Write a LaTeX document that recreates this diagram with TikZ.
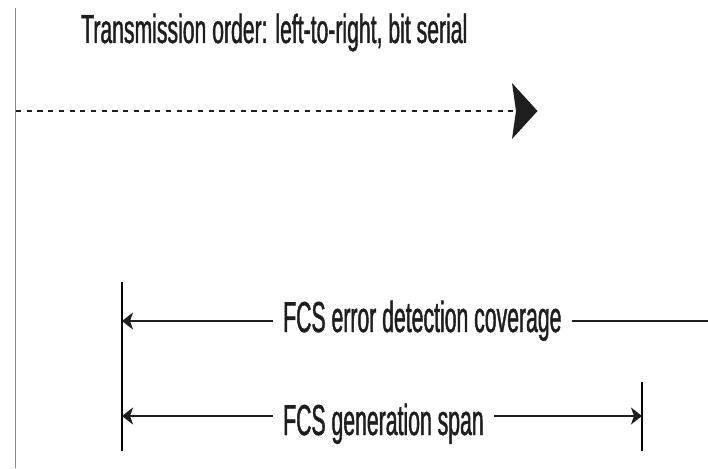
\documentclass[tikz,border=0pt]{standalone}
\usepackage{fontspec}
\usetikzlibrary{arrows.meta}
\setmainfont{Liberation Sans}
\newfontfamily\titlefont[FakeStretch=0.523,FakeBold=1.0]{Liberation Sans}
\newfontfamily\labelfont[FakeStretch=0.49,FakeBold=1.0]{Liberation Sans}
\definecolor{inkdark}{HTML}{1E1E1E}
\definecolor{rulegray}{HTML}{8A8A8A}
\begin{document}
\begin{tikzpicture}[x=1pt,y=-1pt,
  guide/.style={draw=rulegray,line width=1.8pt},
  tick/.style={draw=black,line width=1.1pt},
  span/.style={draw=inkdark,line width=2.1pt},
  spanarrow/.style={span,-{Stealth[length=11pt,width=17pt,inset=3pt]}},
  txt/.style={inner xsep=10pt,inner ysep=0pt,anchor=base west,text=inkdark}]
\useasboundingbox (0,0) rectangle (708,468);
% left guide line
\coordinate (gtop) at (15.5,8);
\coordinate (gbot) at (15.5,468);
\draw[guide] (gtop) -- (gbot);
% title
\node[txt,font=\titlefont\fontsize{40.5}{44}\selectfont] (title) at (71,43) {Transmission order: left-to-right, bit serial};
% dashed transmission arrow
\coordinate (dstart) at (16,111);
\coordinate (dend) at (514,111);
\draw[draw=inkdark,line width=2.8pt,dash pattern=on 5.2pt off 5.5pt] (dstart) -- (dend);
\fill[inkdark] (512,83) -- (537.5,111) -- (512,139) -- (516,111) -- cycle;
% span ticks
\coordinate (ltop) at (122,282);
\coordinate (lbot) at (122,451);
\coordinate (rtop) at (642,382);
\coordinate (rbot) at (642,451);
\draw[tick] (ltop) -- (lbot);
\draw[tick] (rtop) -- (rbot);
% coverage
\node[txt,font=\labelfont\fontsize{43.3}{46}\selectfont] (cov) at (273,332) {FCS error detection coverage};
\coordinate (covl) at (122,321);
\coordinate (covr) at (708,321);
\draw[spanarrow] (cov.west |- covl) -- (covl);
\draw[span] (cov.east |- covr) -- (covr);
% generation span
\node[txt,font=\labelfont\fontsize{43.3}{46}\selectfont] (gen) at (273,435) {FCS generation span};
\coordinate (genl) at (122,416);
\coordinate (genr) at (642,416);
\draw[spanarrow] (gen.west |- genl) -- (genl);
\draw[spanarrow] (gen.east |- genr) -- (genr);
\end{tikzpicture}
\end{document}
